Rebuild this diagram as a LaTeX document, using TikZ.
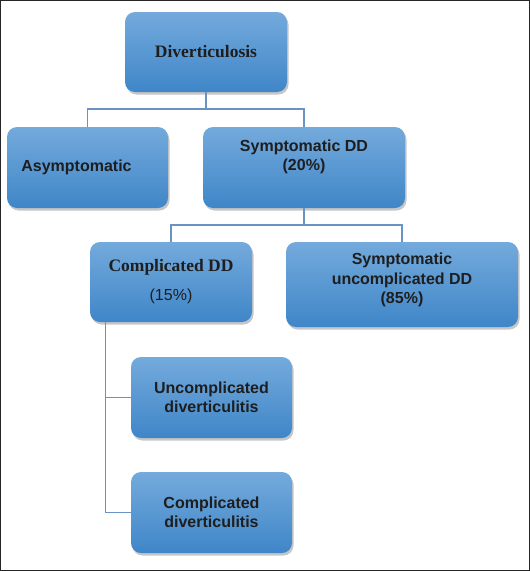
\documentclass[tikz,border=0pt]{standalone}
\usepackage{fontspec}
\setmainfont{Liberation Serif}
\setsansfont{Liberation Sans}
\usetikzlibrary{shadows}
\definecolor{boxtop}{HTML}{74AADC}
\definecolor{boxbot}{HTML}{3F86C8}
\definecolor{linkc}{HTML}{6A93C4}
\definecolor{txtc}{HTML}{1E1E1E}
\tikzset{
  box/.style={draw=none, rounded corners=10pt, top color=boxtop, bottom color=boxbot,
    drop shadow={shadow xshift=1.5pt, shadow yshift=-2.5pt, opacity=0.45},
    text=txtc, align=center, inner sep=2pt},
  sanstxt/.style={font=\fontsize{16}{19.5}\selectfont\sffamily\bfseries},
  seriftxt/.style={font=\fontsize{17.5}{20}\selectfont\rmfamily\bfseries},
  link/.style={linkc, line width=1.2pt}
}
\begin{document}
\begin{tikzpicture}[x=1pt, y=-1pt]
		
		\useasboundingbox (0,0) rectangle (530,571);
		\draw[black!85, line width=1pt] (0.5,0.5) rectangle (529.5,570.5);
		
		% boxes
		\node[box, seriftxt, minimum width=162pt, minimum height=80pt] (div) at (206,52) {Diverticulosis};
		\node[box, sanstxt, minimum width=161pt, minimum height=81pt] (asym) at (87.5,167.5) {Asymptomatic\hspace*{22pt}};
		\node[box, sanstxt, minimum width=202pt, minimum height=81pt, text depth=25pt] (symp) at (304,167.5) {Symptomatic DD\\(20\%)};
		\node[box, seriftxt, minimum width=162pt, minimum height=80pt] (compl) at (171,282) {Complicated DD\\[9pt]{\fontsize{16}{19.5}\selectfont\sffamily\mdseries (15\%)}};
		\node[box, sanstxt, minimum width=232pt, minimum height=85pt, text depth=12pt] (symun) at (402,284.5) {Symptomatic\\uncomplicated DD\\(85\%)};
		\node[box, sanstxt, minimum width=161pt, minimum height=81pt] (uncdiv) at (211.5,397.5) {Uncomplicated\\diverticulitis};
		\node[box, sanstxt, minimum width=161pt, minimum height=81pt] (comdiv) at (211.5,512.5) {Complicated\\diverticulitis};
		
		% connectors
		\coordinate (j1) at (206,109);
		\coordinate (j2) at (304,225);
		\coordinate (j3) at ([xshift=16pt]compl.south west);
		\draw[link] (div.south) -- (j1);
		\draw[link] (asym.north) |- (j1) -| (symp.north);
		\draw[link] (symp.south) -- (j2);
		\draw[link] (compl.north) |- (j2) -| (symun.north);
		\draw[link] (j3) |- (uncdiv.west);
		\draw[link] (j3) |- (comdiv.west);
		
\end{tikzpicture}
\end{document}
